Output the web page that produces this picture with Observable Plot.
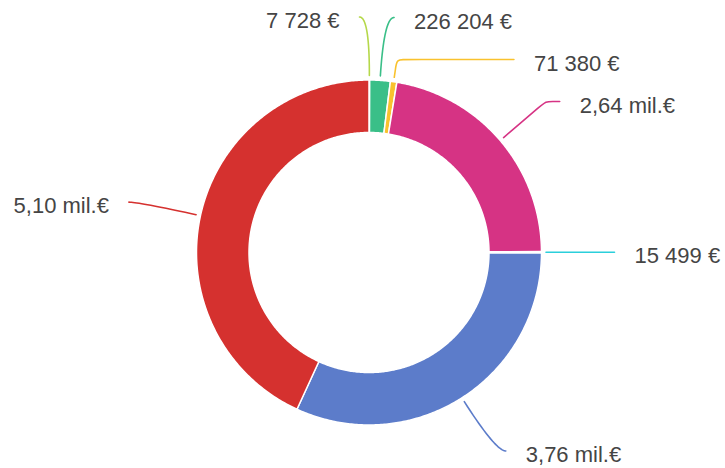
<!DOCTYPE html>
<html><head><meta charset="utf-8">
<script src="https://cdn.jsdelivr.net/npm/d3@7"></script>
<script src="https://cdn.jsdelivr.net/npm/@observablehq/plot@0.6"></script>
<style>html,body{margin:0;padding:0;background:#fff;} #chart svg{display:block}</style>
</head><body><div id="chart"></div>
<script>
// ---- data ----
const labels = ["7 728 €", "226 204 €", "71 380 €", "2,64 mil.€", "15 499 €", "3,76 mil.€", "5,10 mil.€"];
const values = [7728, 226204, 71380, 2640000, 15499, 3760000, 5100000];
const colors = ["#b5d84a", "#3abf88", "#f9c22e", "#d63384", "#2bcfdb", "#5c7cca", "#d5312f"];

// ---- layout ----
const W = 725, H = 468, CX = 368.5, CY = 252;
const R_OUT = 172.5, R_IN = 120, R_LINE0 = 177, R_LABEL = 235.5, LEN2 = 10, TEXT_GAP = 20, MIN_GAP = 42;

const arcs = d3.pie().sort(null).value(d => d.value)(labels.map((label, i) => ({label, value: values[i]})));
const polar = (r, a) => [r * Math.sin(a), r * Math.cos(a)];

// ring polygons
const ring = [];
for (const a of arcs) {
  const label = a.data.label;
  const n = Math.max(2, Math.ceil((a.endAngle - a.startAngle) / 0.01) + 1);
  for (let k = 0; k < n; k++) {
    const t = a.startAngle + (a.endAngle - a.startAngle) * k / (n - 1);
    const [x, y] = polar(R_OUT, t); ring.push({label, x, y});
  }
  for (let k = n - 1; k >= 0; k--) {
    const t = a.startAngle + (a.endAngle - a.startAngle) * k / (n - 1);
    const [x, y] = polar(R_IN, t); ring.push({label, x, y});
  }
}

// labels: default position on leader circle, then de-overlap per side
const lab = arcs.map(a => {
  const mid = (a.startAngle + a.endAngle) / 2;
  const side = Math.sin(mid) > 0.01 ? 1 : -1;
  const Y0 = R_LABEL * Math.cos(mid);
  return {label: a.data.label, mid, side, Y0, Y: Y0};
});
for (const s of [1, -1]) {
  const L = lab.filter(d => d.side === s).sort((a, b) => b.Y0 - a.Y0);
  for (let i = 1; i < L.length; i++) if (L[i].Y > L[i - 1].Y - MIN_GAP) L[i].Y = L[i - 1].Y - MIN_GAP;
}
const leaders = [];
const dist = (a, b) => Math.hypot(b[0] - a[0], b[1] - a[1]);
for (const d of lab) {
  const p0 = polar(R_LINE0, d.mid);
  let q, p2, pts;
  const shifted = Math.abs(d.Y - d.Y0) > 0.5;
  if (!shifted) {
    q = polar(R_LABEL, d.mid);
    p2 = [q[0] + d.side * LEN2, q[1]];
    // smooth quadratic leader from p0 to p2 bending toward q
    pts = d3.range(0, 1.0001, 0.05).map(t => [
      (1 - t) ** 2 * p0[0] + 2 * (1 - t) * t * q[0] + t * t * p2[0],
      (1 - t) ** 2 * p0[1] + 2 * (1 - t) * t * q[1] + t * t * p2[1]
    ]);
  } else {
    const rq = d.Y / Math.cos(d.mid);
    q = rq > R_LINE0 ? polar(rq, d.mid) : [d.side * Math.sqrt(Math.max(0, R_LABEL ** 2 - d.Y ** 2)), d.Y];
    p2 = [d.side * (Math.sqrt(Math.max(0, R_LABEL ** 2 - d.Y ** 2)) + LEN2), d.Y];
    const k1 = Math.min(8, dist(p0, q) / 2), k2 = Math.min(8, dist(q, p2) / 2);
    const u1 = [(q[0] - p0[0]) / dist(p0, q), (q[1] - p0[1]) / dist(p0, q)];
    const u2 = [(p2[0] - q[0]) / dist(q, p2), (p2[1] - q[1]) / dist(q, p2)];
    pts = [p0, [q[0] - k1 * u1[0], q[1] - k1 * u1[1]], q, [q[0] + k2 * u2[0], q[1] + k2 * u2[1]], p2];
  }
  d.tx = p2[0] + d.side * TEXT_GAP; d.ty = d.Y;
  for (const [x, y] of pts) leaders.push({label: d.label, x, y, shifted});
}

const font = "'Liberation Sans', Arial, Helvetica, sans-serif";
const chart = Plot.plot({
  width: W, height: H,
  marginTop: 0, marginRight: 0, marginBottom: 0, marginLeft: 0,
  x: {domain: [-CX, W - CX], axis: null},
  y: {domain: [-(H - CY), CY], axis: null},
  color: {domain: labels, range: colors},
  style: {background: "#fff", fontFamily: font},
  marks: [
    Plot.line(ring, {x: "x", y: "y", z: "label", fill: "label", stroke: "#fff", strokeWidth: 1.5, curve: "linear-closed"}),
    Plot.line(leaders.filter(d => !d.shifted), {x: "x", y: "y", z: "label", stroke: "label", strokeWidth: 1.6, curve: "linear"}),
    Plot.line(leaders.filter(d => d.shifted), {x: "x", y: "y", z: "label", stroke: "label", strokeWidth: 1.6, curve: "basis"}),
    Plot.text(lab.filter(d => d.side > 0), {x: "tx", y: "ty", text: "label", textAnchor: "start", dy: 4, fontSize: 22, fill: "#454545", fontFamily: font}),
    Plot.text(lab.filter(d => d.side < 0), {x: "tx", y: "ty", text: "label", textAnchor: "end", dy: 4, fontSize: 22, fill: "#454545", fontFamily: font})
  ]
});
document.getElementById("chart").appendChild(chart);
</script>
</body></html>
